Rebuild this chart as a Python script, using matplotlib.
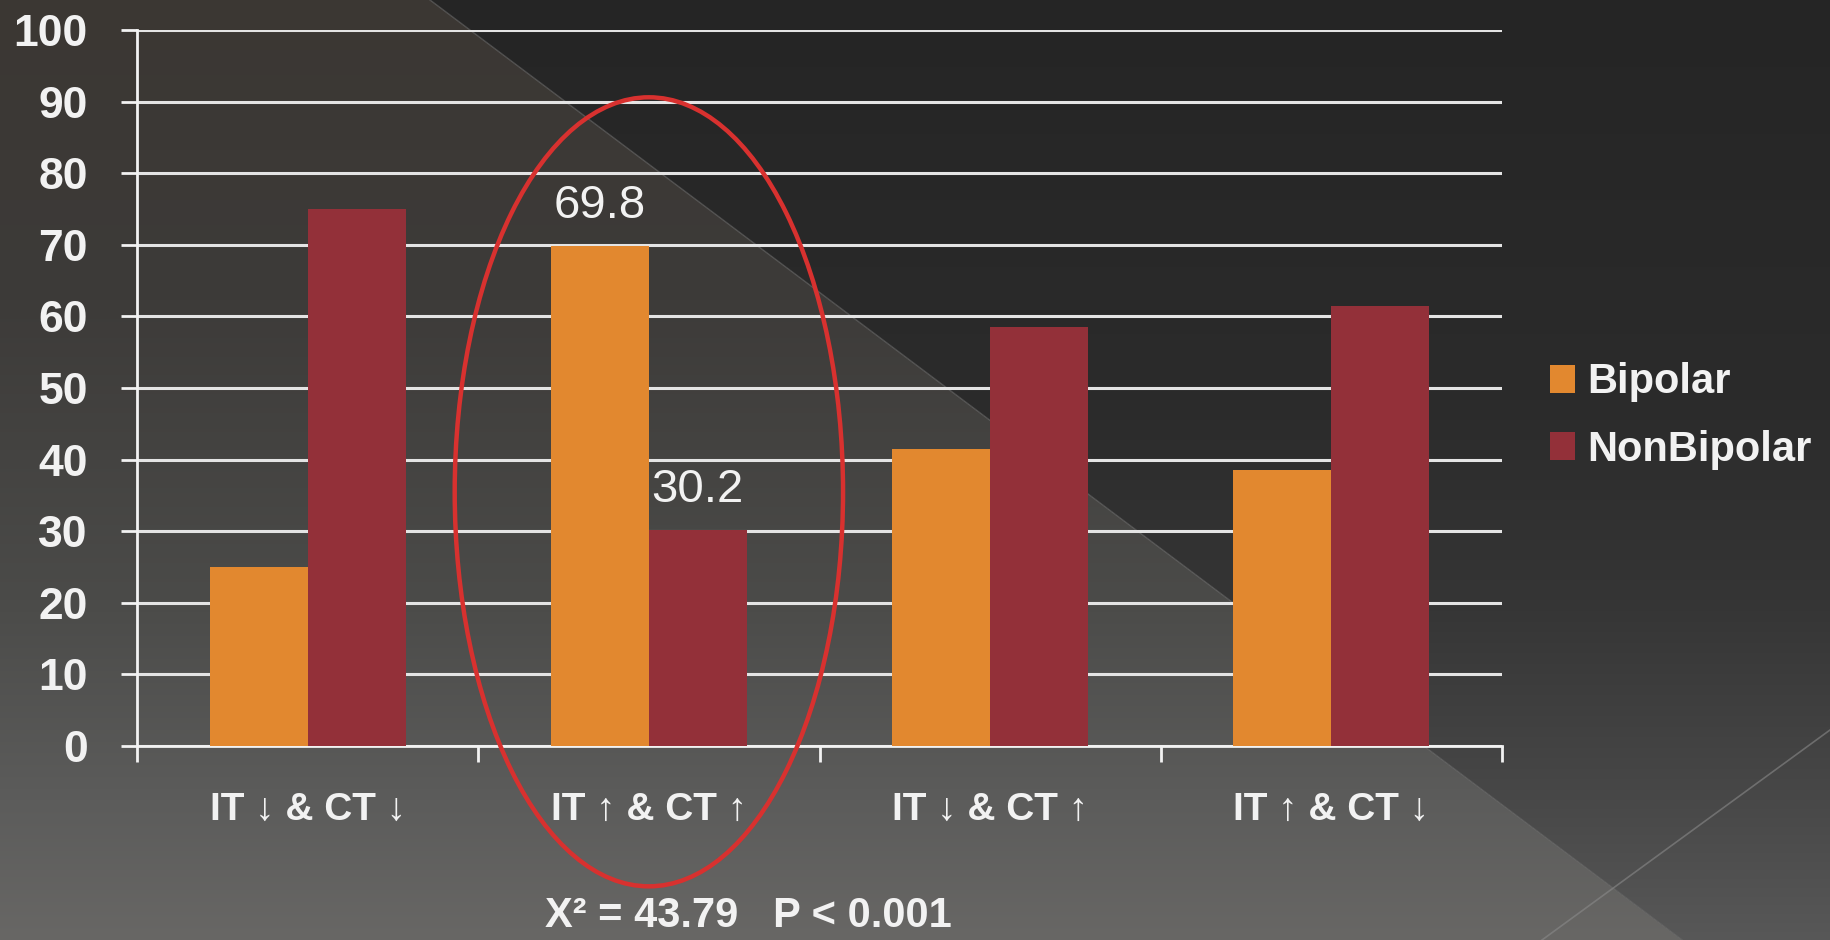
"""
Bipolar vs non-bipolar split across IT/CT change groups, on a slide-style
dark background, with the IT↑ & CT↑ group circled.

Output: out.png
"""

import matplotlib
matplotlib.use("Agg")
import matplotlib.pyplot as plt
import numpy as np
from matplotlib.patches import Ellipse

groups = ["IT ↓ & CT ↓", "IT ↑ & CT ↑", "IT ↓ & CT ↑", "IT ↑ & CT ↓"]
bipolar = [25.0, 69.8, 41.5, 38.5]
nonbipolar = [75.0, 30.2, 58.5, 61.5]
yticks = list(range(0, 101, 10))
stats_text = "X² = 43.79   P < 0.001"
highlight = 1  # group index that gets the red ring

ORANGE = "#e2882f"
RED = "#933039"
WHITE = "#f2f2f2"
FONT = ["Liberation Sans", "DejaVu Sans"]

W, H = 1830, 940
plt.rcParams["font.family"] = FONT

fig = plt.figure(figsize=(W / 100, H / 100), dpi=100)

# --- background: two-tone diagonal split with vertical shading
yy, xx = np.mgrid[0:H, 0:W].astype(float)
edge_x = 430 + yy * (1183 / 888)
light = xx < edge_x
dark_g = np.interp(yy, [0, 400, 600, 800, 940], [0x25, 0x2b, 0x35, 0x48, 0x58])
lr = np.interp(yy, [0, 300, 600, 800, 940], [0x3b, 0x3d, 0x4b, 0x5c, 0x68])
lg = np.interp(yy, [0, 300, 600, 800, 940], [0x37, 0x3b, 0x4b, 0x5c, 0x67])
lb = np.interp(yy, [0, 300, 600, 800, 940], [0x33, 0x39, 0x49, 0x5b, 0x65])
bg = np.zeros((H, W, 3))
bg[..., 0] = np.where(light, lr, dark_g)
bg[..., 1] = np.where(light, lg, dark_g)
bg[..., 2] = np.where(light, lb, dark_g)
bg /= 255.0

bg_ax = fig.add_axes([0, 0, 1, 1], zorder=-10)
bg_ax.imshow(bg, extent=(0, W, H, 0), aspect="auto", interpolation="bilinear")
bg_ax.plot([430, 430 + 940 * 1183 / 888], [0, 940], color="#6a6a6a", lw=1.0, alpha=0.6)
bg_ax.plot([1542, 1830], [940, 730], color="#8a8a8a", lw=1.2, alpha=0.6)
bg_ax.set_xlim(0, W)
bg_ax.set_ylim(H, 0)
bg_ax.axis("off")

# --- chart
ax = fig.add_axes([137 / W, 1 - 746 / H, (1502 - 137) / W, (746 - 30) / H])
ax.set_facecolor("none")

x = np.arange(len(groups))
w = 0.287
b1 = ax.bar(x - w / 2, bipolar, w, color=ORANGE, label="Bipolar", zorder=3)
b2 = ax.bar(x + w / 2, nonbipolar, w, color=RED, label="NonBipolar", zorder=3)

ax.set_xlim(-0.5, len(groups) - 0.5)
ax.set_ylim(0, 100)
ax.set_yticks(yticks)
ax.set_yticklabels([str(t) for t in yticks], fontsize=32, fontweight="bold", color=WHITE)
ax.set_xticks(x)
ax.set_xticklabels(groups, fontsize=28, fontweight="bold", color=WHITE)
ax.set_xticks(np.arange(len(groups) + 1) - 0.5, minor=True)

ax.yaxis.grid(True, color="#e4e4e4", lw=2.2, zorder=1)
ax.set_axisbelow(True)
ax.tick_params(axis="y", length=11.5, width=2, color=WHITE, pad=24)
ax.tick_params(axis="x", which="major", length=0, pad=33)
ax.tick_params(axis="x", which="minor", length=11.5, width=2, color=WHITE)
for side in ("top", "right"):
    ax.spines[side].set_visible(False)
for side in ("left", "bottom"):
    ax.spines[side].set_color(WHITE)
    ax.spines[side].set_linewidth(2)

# value labels for the circled group
for bar, val in ((b1[highlight], bipolar[highlight]), (b2[highlight], nonbipolar[highlight])):
    ax.annotate(f"{val:.1f}", (bar.get_x() + bar.get_width() / 2, val),
                xytext=(0, 13), textcoords="offset points",
                ha="center", va="bottom", fontsize=34, color=WHITE)

ring = Ellipse((highlight, 35.5), 1.138, 110.2, fill=False,
               edgecolor="#d8312f", lw=3.2, clip_on=False, zorder=5)
ax.add_patch(ring)

ax.legend(handles=[b1, b2], loc="center left", bbox_to_anchor=(1550 / W, 1 - 416 / H),
          bbox_transform=fig.transFigure, frameon=False,
          prop={"weight": "bold", "size": 30, "family": FONT},
          labelcolor=WHITE, handlelength=0.6, handleheight=0.65,
          handletextpad=0.3, labelspacing=0.66, borderpad=0, borderaxespad=0)

fig.text(748 / W, 1 - 916 / H, stats_text, ha="center", va="center",
         fontsize=30, fontweight="bold", color=WHITE)

fig.savefig("out.png", dpi=100)
